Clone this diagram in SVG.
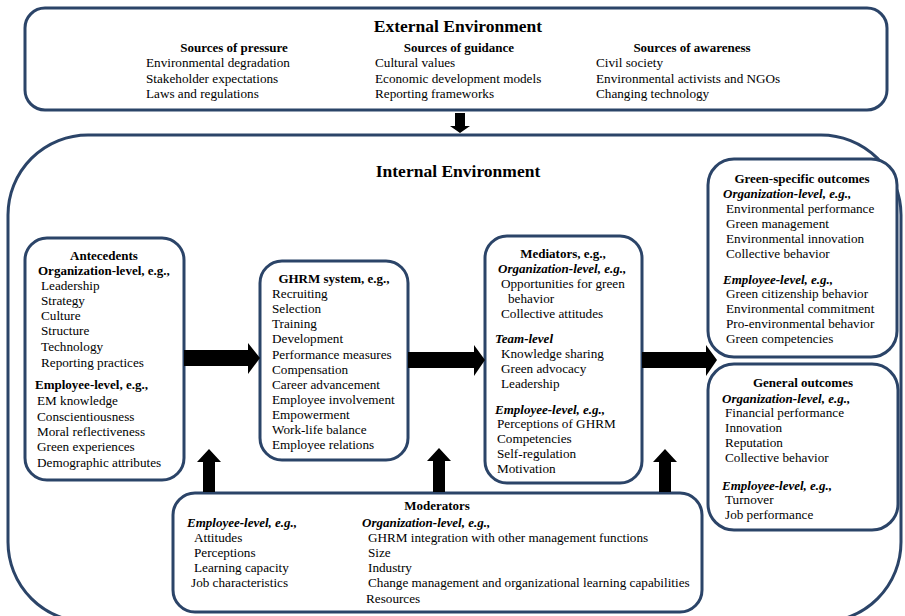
<svg xmlns="http://www.w3.org/2000/svg" width="905" height="616" viewBox="0 0 905 616" font-family="'Liberation Serif', 'DejaVu Serif', serif">
<style>
.box{fill:#fff;stroke:#2b4468;stroke-width:3}
text{font-family:'Liberation Serif','DejaVu Serif',serif;font-size:13.2px;fill:#000}
.t{font-size:17.5px;font-weight:bold;text-anchor:middle}
.h{font-weight:bold;font-size:13px}
.c{text-anchor:middle}
.bi{font-weight:bold;font-style:italic;font-size:13px}
.arr{fill:#000}
</style>
<rect width="905" height="616" fill="#fff"/>
<g id="internal">
<rect class="box" x="8" y="135" width="893" height="487" rx="80"/>
<text class="t" x="458" y="177">Internal Environment</text>
</g>
<g id="external">
<rect class="box" x="25" y="8" width="862" height="102" rx="20"/>
<text class="t" x="458" y="32">External Environment</text>
<text class="h c" x="234" y="52">Sources of pressure</text>
<text x="146" y="67">Environmental degradation</text>
<text x="146" y="83">Stakeholder expectations</text>
<text x="146" y="98">Laws and regulations</text>
<text class="h c" x="459" y="52">Sources of guidance</text>
<text x="375" y="67">Cultural values</text>
<text x="375" y="83">Economic development models</text>
<text x="375" y="98">Reporting frameworks</text>
<text class="h c" x="692" y="52">Sources of awareness</text>
<text x="596" y="67">Civil society</text>
<text x="596" y="83">Environmental activists and NGOs</text>
<text x="596" y="98">Changing technology</text>
</g>
<g id="antecedents">
<rect class="box" x="25" y="238" width="159" height="242" rx="22"/>
<text class="h c" x="104" y="260">Antecedents</text>
<text class="h" x="38" y="275">Organization-level, e.g.,</text>
<text x="41" y="290">Leadership</text>
<text x="41" y="305">Strategy</text>
<text x="41" y="320">Culture</text>
<text x="41" y="335">Structure</text>
<text x="41" y="351">Technology</text>
<text x="41" y="367">Reporting practices</text>
<text class="h" x="35" y="389">Employee-level, e.g.,</text>
<text x="37" y="405">EM knowledge</text>
<text x="37" y="421">Conscientiousness</text>
<text x="37" y="436">Moral reflectiveness</text>
<text x="37" y="451">Green experiences</text>
<text x="37" y="467">Demographic attributes</text>
</g>
<g id="ghrm">
<rect class="box" x="260" y="261" width="148" height="199" rx="22"/>
<text class="h c" x="334" y="283">GHRM system, e.g.,</text>
<text x="272" y="298">Recruiting</text>
<text x="272" y="313">Selection</text>
<text x="272" y="328">Training</text>
<text x="272" y="343">Development</text>
<text x="272" y="359">Performance measures</text>
<text x="272" y="374">Compensation</text>
<text x="272" y="389">Career advancement</text>
<text x="272" y="404">Employee involvement</text>
<text x="272" y="419">Empowerment</text>
<text x="272" y="434">Work-life balance</text>
<text x="272" y="449">Employee relations</text>
</g>
<g id="mediators">
<rect class="box" x="485" y="236" width="157" height="247" rx="22"/>
<text class="h c" x="563" y="258">Mediators, e.g.,</text>
<text class="bi" x="498" y="273">Organization-level, e.g.,</text>
<text x="501" y="288">Opportunities for green</text>
<text x="508" y="303">behavior</text>
<text x="501" y="318">Collective attitudes</text>
<text class="bi" x="495" y="343">Team-level</text>
<text x="501" y="358">Knowledge sharing</text>
<text x="501" y="373">Green advocacy</text>
<text x="501" y="388">Leadership</text>
<text class="bi" x="495" y="414">Employee-level, e.g.,</text>
<text x="497" y="428">Perceptions of GHRM</text>
<text x="497" y="443">Competencies</text>
<text x="497" y="458">Self-regulation</text>
<text x="497" y="473">Motivation</text>
</g>
<g id="green-outcomes">
<rect class="box" x="708" y="159" width="189" height="198" rx="26"/>
<text class="h c" x="802" y="183">Green-specific outcomes</text>
<text class="bi" x="723" y="198">Organization-level, e.g.,</text>
<text x="726" y="213">Environmental performance</text>
<text x="726" y="228">Green management</text>
<text x="726" y="243">Environmental innovation</text>
<text x="726" y="258">Collective behavior</text>
<text class="bi" x="723" y="284">Employee-level, e.g.,</text>
<text x="726" y="298">Green citizenship behavior</text>
<text x="726" y="313">Environmental commitment</text>
<text x="726" y="328">Pro-environmental behavior</text>
<text x="726" y="343">Green competencies</text>
</g>
<g id="general-outcomes">
<rect class="box" x="708" y="364" width="190" height="166" rx="26"/>
<text class="h c" x="803" y="387">General outcomes</text>
<text class="bi" x="722" y="403">Organization-level, e.g.,</text>
<text x="725" y="417">Financial performance</text>
<text x="725" y="432">Innovation</text>
<text x="725" y="447">Reputation</text>
<text x="725" y="462">Collective behavior</text>
<text class="bi" x="722" y="490">Employee-level, e.g.,</text>
<text x="725" y="504">Turnover</text>
<text x="725" y="519">Job performance</text>
</g>
<g id="moderators">
<rect class="box" x="173" y="493" width="529" height="119" rx="22"/>
<text class="h c" x="437" y="510">Moderators</text>
<text class="bi" x="187" y="527">Employee-level, e.g.,</text>
<text x="194" y="542">Attitudes</text>
<text x="194" y="557">Perceptions</text>
<text x="194" y="572">Learning capacity</text>
<text x="191" y="587">Job characteristics</text>
<text class="bi" x="362" y="527">Organization-level, e.g.,</text>
<text x="368" y="542">GHRM integration with other management functions</text>
<text x="368" y="557">Size</text>
<text x="368" y="572">Industry</text>
<text x="368" y="587">Change management and organizational learning capabilities</text>
<text x="366" y="603">Resources</text>
</g>
<g id="connectors">
<polygon class="arr" points="455,113 465,113 465,126 470,126 460,133 450,126 455,126"/>
<polygon class="arr" points="184,350 248,350 248,343 260,358 248,374 248,366 184,366"/>
<polygon class="arr" points="408,352 474,352 474,345 485,360 474,376 474,368 408,368"/>
<polygon class="arr" points="642,352 706,352 706,345 717,360 706,376 706,368 642,368"/>
<polygon class="arr" points="203,492 215,492 215,462 221,462 209,449 197,462 203,462"/>
<polygon class="arr" points="433,492 445,492 445,461 451,461 439,448 427,461 433,461"/>
<polygon class="arr" points="659,492 671,492 671,462 677,462 665,449 653,462 659,462"/>
</g>
</svg>
